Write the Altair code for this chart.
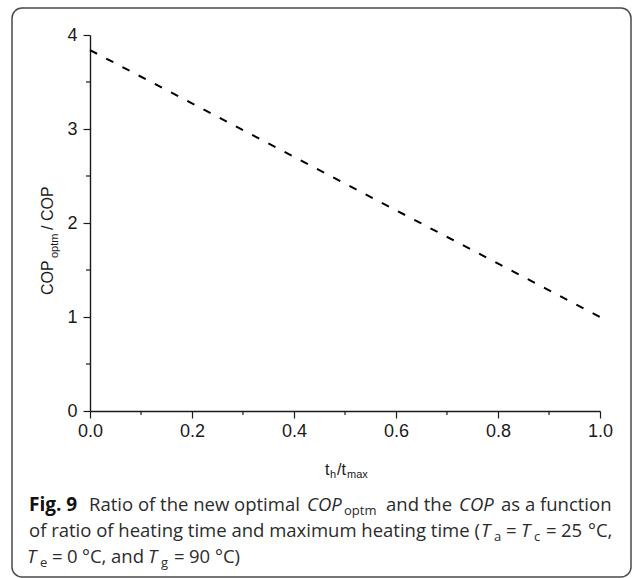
import altair as alt
import pandas as pd

# ---- data ----
ratio_x = [0.0, 1.0]          # t_h / t_max
cop_ratio = [3.84, 1.0]        # COP_optm / COP
x_major = [0.0, 0.2, 0.4, 0.6, 0.8, 1.0]
x_minor = [0.1, 0.3, 0.5, 0.7, 0.9]
y_major = [0, 1, 2, 3, 4]
y_minor = [0.5, 1.5, 2.5, 3.5]

# ---- layout ----
PAGE_W, PAGE_H = 632, 578
OX, OY = 90, 35          # plot origin on the page
W, H = 510, 376          # plot area
AX_FONT = "Liberation Sans"
CAP_FONT = "Open Sans"
INK = "#1a1a1a"
CAP_INK = "#2b2b2b"

xs = alt.Scale(domain=[0, 1], nice=False, zero=False)
ys = alt.Scale(domain=[0, 4], nice=False)

axis_common = dict(
    grid=False, tickSize=7, tickWidth=1.2, tickColor=INK,
    domainColor=INK, domainWidth=1.4, labelFont=AX_FONT,
    labelFontSize=18, labelColor=INK, title=None,
)
x_axis = alt.Axis(values=x_major, format=".1f", labelPadding=4,
                  labelFlush=False, **axis_common)
y_axis = alt.Axis(values=y_major, format="d", labelPadding=6, **axis_common)

line_df = pd.DataFrame({"x": ratio_x, "y": cop_ratio})
line = alt.Chart(line_df).mark_line(
    color="black", strokeWidth=2, strokeDash=[8, 10.3]
).encode(
    x=alt.X("x:Q", scale=xs, axis=x_axis),
    y=alt.Y("y:Q", scale=ys, axis=y_axis),
)

xminor = alt.Chart(pd.DataFrame({"x": x_minor})).mark_rule(
    color=INK, strokeWidth=1.2
).encode(x=alt.X("x:Q", scale=xs, axis=x_axis),
         y=alt.value(H), y2=alt.value(H + 4))

yminor = alt.Chart(pd.DataFrame({"y": y_minor})).mark_rule(
    color=INK, strokeWidth=1.2
).encode(y=alt.Y("y:Q", scale=ys, axis=y_axis),
         x=alt.value(-4), x2=alt.value(0))

one = pd.DataFrame({"k": [0]})

frame = alt.Chart(one).mark_rect(
    fill=None, stroke="#4a4a4a", strokeWidth=1.5, cornerRadius=10
).encode(
    x=alt.value(12 - OX), x2=alt.value(631 - OX),
    y=alt.value(8 - OY), y2=alt.value(577 - OY),
)


def txt(text, xa, ya, size, font=CAP_FONT, style="normal", weight="normal",
        color=CAP_INK, angle=0):
    kw = dict(text=text, align="left", baseline="alphabetic", font=font,
              fontSize=size, fontStyle=style, fontWeight=weight, color=color)
    if angle:
        kw["angle"] = angle
    return alt.Chart(one).mark_text(**kw).encode(
        x=alt.value(xa - OX), y=alt.value(ya - OY))


texts = []
# x axis title: t_h/t_max
texts += [
    txt("t", 325, 475, 16, font=AX_FONT, color=INK),
    txt("h", 330, 478, 11, font=AX_FONT, color=INK),
    txt("/t", 337, 475, 16, font=AX_FONT, color=INK),
    txt("max", 347, 478, 11, font=AX_FONT, color=INK),
]
# y axis title: COP_optm / COP (rotated)
texts += [
    txt("COP", 53, 295, 16, font=AX_FONT, color=INK, angle=270),
    txt("optm", 58, 258, 11, font=AX_FONT, color=INK, angle=270),
    txt("/ COP", 53, 230, 16, font=AX_FONT, color=INK, angle=270),
]

# caption
CS, SS = 18.5, 13
L1, L2, L3 = 511, 537, 563
texts += [
    txt("Fig. 9", 29, L1, 19, weight="bold", color="#111"),
    txt("Ratio of the new optimal", 89, L1, CS),
    txt("COP", 307, L1, CS, style="italic"),
    txt("optm", 344, L1 + 4, SS),
    txt("and the", 386, L1, CS),
    txt("COP", 459, L1, CS, style="italic"),
    txt("as a function", 501, L1, CS),

    txt("of ratio of heating time and maximum heating time (", 29, L2, CS),
    txt("T", 481, L2, CS, style="italic"),
    txt("a", 494, L2 + 4, SS),
    txt("=", 506, L2, CS),
    txt("T", 521, L2, CS, style="italic"),
    txt("c", 534, L2 + 4, SS),
    txt("=", 546, L2, CS),
    txt("25", 561, L2, CS),
    txt("°C,", 588, L2, CS),

    txt("T", 27, L3, CS, style="italic"),
    txt("e", 40, L3 + 4, SS),
    txt("=", 52, L3, CS),
    txt("0", 67, L3, CS),
    txt("°C,", 82, L3, CS),
    txt("and", 111, L3, CS),
    txt("T", 148, L3, CS, style="italic"),
    txt("g", 161, L3 + 4, SS),
    txt("=", 174, L3, CS),
    txt("90", 189, L3, CS),
    txt("°C)", 215, L3, CS),
]

chart = alt.layer(frame, line, xminor, yminor, *texts).properties(
    width=W, height=H,
    padding={"left": OX, "top": OY, "right": PAGE_W - OX - W,
             "bottom": PAGE_H - OY - H},
    autosize=alt.AutoSizeParams(type="none"),
    background="white",
).configure_view(stroke=None)

chart.save("out.html", embed_options={"renderer": "svg", "actions": False})
